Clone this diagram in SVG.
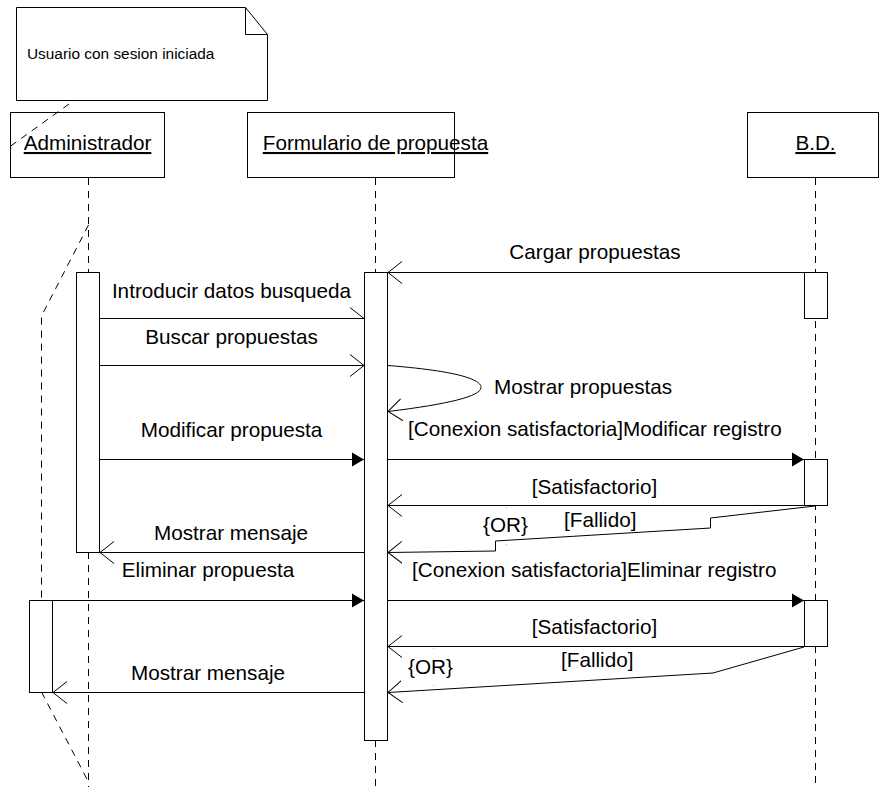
<svg xmlns="http://www.w3.org/2000/svg" width="879" height="787" viewBox="0 0 879 787">
  <style>
    .box { fill: #fff; stroke: #000; stroke-width: 1; }
    .act { fill: #fff; stroke: #000; stroke-width: 1; }
    .life { fill: none; stroke: #000; stroke-width: 1; stroke-dasharray: 7 6; }
    .msg { fill: none; stroke: #000; stroke-width: 1; }
    .lbl { font-family: "Liberation Sans", Arial, sans-serif; font-size: 20.7px; fill: #000; }
    .name { font-family: "Liberation Sans", Arial, sans-serif; font-size: 20.7px; fill: #000; text-decoration: underline; }
    .note { font-family: "Liberation Sans", Arial, sans-serif; font-size: 15.4px; fill: #000; }
  </style>
  <defs>
    <marker id="open" markerWidth="16" markerHeight="24" refX="14" refY="12" orient="auto" markerUnits="userSpaceOnUse">
      <path d="M0,1 L14,12 L0,23" fill="none" stroke="#000" stroke-width="1"/>
    </marker>
    <marker id="half" markerWidth="16" markerHeight="24" refX="14" refY="12" orient="auto" markerUnits="userSpaceOnUse">
      <path d="M0,1 L14,12" fill="none" stroke="#000" stroke-width="1"/>
    </marker>
    <marker id="filled" markerWidth="14" markerHeight="16" refX="12" refY="8" orient="auto" markerUnits="userSpaceOnUse">
      <path d="M0,1 L12,8 L0,15 Z" fill="#000" stroke="none"/>
    </marker>
  </defs>

  <!-- lifelines (dashed) -->
  <g id="lifelines">
    <line class="life" x1="88.5" y1="178" x2="88.5" y2="272"/>
    <line class="life" x1="88.5" y1="552" x2="88.5" y2="787"/>
    <polyline class="life" points="88.5,225 41.5,316 41.5,600"/>
    <line class="life" x1="41.5" y1="692" x2="88.5" y2="782"/>
    <line class="life" x1="375.5" y1="178" x2="375.5" y2="272"/>
    <line class="life" x1="375.5" y1="740" x2="375.5" y2="787"/>
    <line class="life" x1="815.5" y1="178" x2="815.5" y2="787"/>
  </g>

  <!-- note attached to the actor -->
  <g id="note">
    <path class="box" d="M16.5,7.5 H245.5 L267.5,34.5 V100.5 H16.5 Z"/>
    <path class="msg" d="M245.5,7.5 V34.5 H267.5"/>
    <text class="note" x="27" y="59">Usuario con sesion iniciada</text>
  </g>

  <!-- participants -->
  <g id="administrador">
    <rect class="box" x="10.5" y="112.5" width="154" height="65"/>
    <text class="name" x="87.5" y="150" text-anchor="middle">Administrador</text>
    <rect class="act" x="76.5" y="272.5" width="23" height="280"/>
    <rect class="act" x="29.5" y="600.5" width="23" height="92"/>
  </g>
  <g id="formulario">
    <rect class="box" x="247.5" y="112.5" width="207" height="65"/>
    <text class="name" x="375.5" y="150" text-anchor="middle">Formulario de propuesta</text>
    <rect class="act" x="364.5" y="272.5" width="23" height="468"/>
  </g>
  <g id="bd">
    <rect class="box" x="747.5" y="112.5" width="131" height="65"/>
    <text class="name" x="815.5" y="150" text-anchor="middle">B.D.</text>
    <rect class="act" x="804.5" y="272.5" width="23" height="46"/>
    <rect class="act" x="804.5" y="459.5" width="23" height="46"/>
    <rect class="act" x="804.5" y="600.5" width="23" height="46"/>
  </g>

  <!-- messages -->
  <g id="connectors">
    <!-- note anchor, drawn over the actor box -->
    <line class="life" x1="69" y1="104" x2="8" y2="148"/>
    <line class="msg" x1="804" y1="272.5" x2="388" y2="272.5" marker-end="url(#open)"/>
    <line class="msg" x1="100" y1="318.5" x2="364" y2="318.5" marker-end="url(#half)"/>
    <line class="msg" x1="100" y1="365.5" x2="364" y2="365.5" marker-end="url(#open)"/>
    <path class="msg" d="M388,365.5 C470,372 482,382 481,388 C480,396 450,404 388,411.5" marker-end="url(#open)"/>
    <line class="msg" x1="100" y1="459.5" x2="364" y2="459.5" marker-end="url(#filled)"/>
    <line class="msg" x1="388" y1="459.5" x2="804" y2="459.5" marker-end="url(#filled)"/>
    <line class="msg" x1="804" y1="505.5" x2="388" y2="505.5" marker-end="url(#open)"/>
    <polyline class="msg" points="815,506 710.5,518 710.5,528 495.5,541 495.5,551 388,552.5" marker-end="url(#open)"/>
    <line class="msg" x1="364" y1="552.5" x2="100" y2="552.5" marker-end="url(#open)"/>
    <line class="msg" x1="53" y1="600.5" x2="364" y2="600.5" marker-end="url(#filled)"/>
    <line class="msg" x1="388" y1="600.5" x2="804" y2="600.5" marker-end="url(#filled)"/>
    <line class="msg" x1="804" y1="646.5" x2="388" y2="646.5" marker-end="url(#open)"/>
    <polyline class="msg" points="804,647 713,673 388,692.5" marker-end="url(#open)"/>
    <line class="msg" x1="364" y1="692.5" x2="53" y2="692.5" marker-end="url(#open)"/>
    <!-- faint marks of the OR constraint -->
    <rect x="506" y="507" width="1" height="1" fill="#bbb"/>
    <rect x="506" y="544" width="1" height="1" fill="#bbb"/>
    <rect x="433" y="648" width="1" height="1" fill="#bbb"/>
    <rect x="433" y="685" width="1" height="1" fill="#bbb"/>
  </g>

  <!-- message labels -->
  <g id="labels">
    <text class="lbl" x="595" y="259" text-anchor="middle">Cargar propuestas</text>
    <text class="lbl" x="231.5" y="298" text-anchor="middle">Introducir datos busqueda</text>
    <text class="lbl" x="231.5" y="344" text-anchor="middle">Buscar propuestas</text>
    <text class="lbl" x="494" y="394">Mostrar propuestas</text>
    <text class="lbl" x="231.5" y="437" text-anchor="middle">Modificar propuesta</text>
    <text class="lbl" x="408" y="436">[Conexion satisfactoria]Modificar registro</text>
    <text class="lbl" x="594.5" y="494" text-anchor="middle">[Satisfactorio]</text>
    <text class="lbl" x="483" y="532">{OR}</text>
    <text class="lbl" x="564" y="527">[Fallido]</text>
    <text class="lbl" x="231" y="540" text-anchor="middle">Mostrar mensaje</text>
    <text class="lbl" x="208" y="577" text-anchor="middle">Eliminar propuesta</text>
    <text class="lbl" x="412" y="577">[Conexion satisfactoria]Eliminar registro</text>
    <text class="lbl" x="594.5" y="634" text-anchor="middle">[Satisfactorio]</text>
    <text class="lbl" x="408" y="674">{OR}</text>
    <text class="lbl" x="561" y="667">[Fallido]</text>
    <text class="lbl" x="208" y="680" text-anchor="middle">Mostrar mensaje</text>
  </g>
</svg>
